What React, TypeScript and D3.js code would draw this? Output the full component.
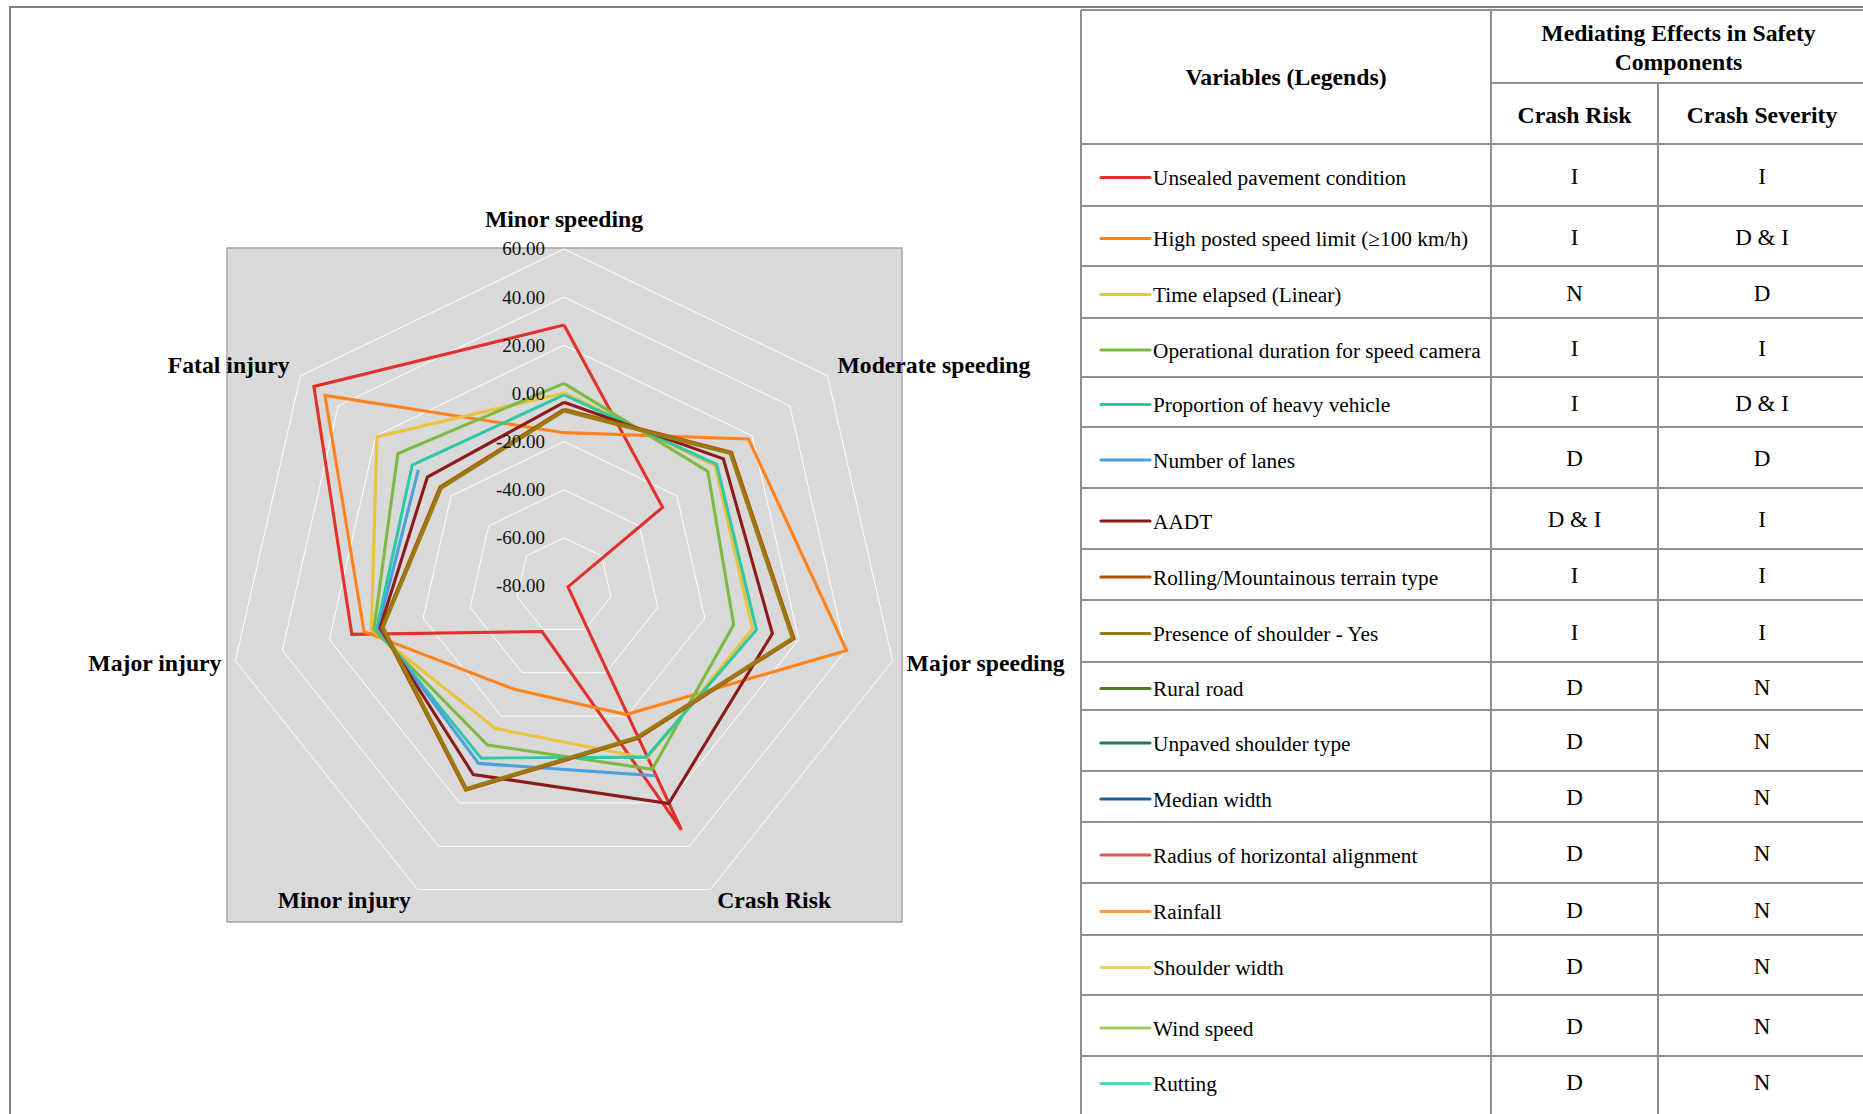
import React from "react";
import * as d3 from "d3";

// Radar axes (clockwise from the top) and the value ticks of the radial scale
const axes = [
  "Minor speeding",
  "Moderate speeding",
  "Major speeding",
  "Crash Risk",
  "Minor injury",
  "Major injury",
  "Fatal injury",
];
const tickValues = [-80, -60, -40, -20, 0, 20, 40, 60];

// Mediating effect of each variable on every axis (null = no value)
const unsealedPavement = [28.4, -27.6, -78.3, 32.4, -59, 10.4, 52.9];
const highSpeedLimit = [-16.3, 18, 40.4, -20.7, -32.4, 5.2, 47];
const timeElapsed = [0.2, 0.2, 0.3, -0.5, -14.3, 2.1, 19.4];
const speedCamera = [4.2, -3.6, -7.7, 4.5, -6.7, 1, 8.3];
const heavyVehicle = [-0.6, 1.1, 2, -1.1, -0.6, -0.2, 0.6];
const numberOfLanes = [null, null, null, 7.5, 1.8, -0.8, -2.6];
const aadt = [-3.7, 4.7, 8.8, 20.3, 6.9, -1.6, -7.4];
const terrainType = [-6.7, 8.9, 17.9, -9.7, 14.0, -2.4, -14.2];
const shoulderPresence = [-7.2, 8.4, 17.4, -10.2, 13.5, -2.8, -14.7];

// Legend table
const variables = [
  "Unsealed pavement condition",
  "High posted speed limit (\u2265100 km/h)",
  "Time elapsed (Linear)",
  "Operational duration for speed camera",
  "Proportion of heavy vehicle",
  "Number of lanes",
  "AADT",
  "Rolling/Mountainous terrain type",
  "Presence of shoulder - Yes",
  "Rural road",
  "Unpaved shoulder type",
  "Median width",
  "Radius of horizontal alignment",
  "Rainfall",
  "Shoulder width",
  "Wind speed",
  "Rutting",
];
const crashRiskEffects = ["I", "I", "N", "I", "I", "D", "D & I", "I", "I", "D", "D", "D", "D", "D", "D", "D", "D"];
const crashSeverityEffects = ["I", "D & I", "D", "I", "D & I", "D", "I", "I", "I", "N", "N", "N", "N", "N", "N", "N", "N"];
const variableColors = [
  "#e2302b", "#ff821d", "#ebc23b", "#7cba43", "#2ec8a6", "#4ba0e0",
  "#8b1b1b", "#b25000", "#9a7a12", "#4e7a27", "#1d7a5f", "#1f5e9c",
  "#e55454", "#ff9a42", "#ecd063", "#9ccc62", "#5ad6b8",
];

// Series drawn in the radar, in legend order (later ones on top)
const radarSeries = [
  { variable: 0, values: unsealedPavement },
  { variable: 1, values: highSpeedLimit },
  { variable: 2, values: timeElapsed },
  { variable: 3, values: speedCamera },
  { variable: 4, values: heavyVehicle },
  { variable: 5, values: numberOfLanes },
  { variable: 6, values: aadt },
  { variable: 7, values: terrainType },
  { variable: 8, values: shoulderPresence },
];

const W = 1863;
const H = 1114;
const FONT = "'Liberation Serif', 'Times New Roman', serif";

// radar geometry
const CX = 564;
const CY = 586;
const R = 337;
const plotBox = { x0: 227, y0: 248, x1: 902, y1: 922 };
const labelDx = [0, 10, 14, 7, -7, -14, -11];
const labelDy = [-22, -3, 10, 18, 18, 10, -3];

// table geometry
const tableX = [1081, 1491, 1658, 1866];
const tableTop = 10;
const headerMid = 83;
const headerBottom = 144;
const rowHeights = [62, 60, 52, 59, 50, 61, 61, 51, 62, 48, 61, 51, 61, 52, 60, 61, 50];

function Radar() {
  const r = d3.scaleLinear().domain([-80, 60]).range([0, R]);
  const angle = d3
    .scalePoint<number>()
    .domain(d3.range(axes.length + 1))
    .range([0, 2 * Math.PI]);
  const pt = (i: number, v: number): [number, number] => {
    const a = angle(i)!;
    return [CX + r(v) * Math.sin(a), CY - r(v) * Math.cos(a)];
  };

  const ringPath = (v: number) =>
    d3.line().curve(d3.curveLinearClosed)(axes.map((_, i) => pt(i, v)));

  const seriesLine = d3
    .line<[number, number] | null>()
    .defined((d) => d !== null)
    .x((d) => d![0])
    .y((d) => d![1])
    .curve(d3.curveLinear);

  return (
    <g>
      <rect
        x={plotBox.x0}
        y={plotBox.y0}
        width={plotBox.x1 - plotBox.x0}
        height={plotBox.y1 - plotBox.y0}
        fill="#d9d9d9"
        stroke="#a5a5a5"
        strokeWidth={1.5}
      />
      {tickValues
        .filter((t) => t > -80)
        .map((t) => (
          <path key={t} d={ringPath(t)!} fill="none" stroke="#ffffff" strokeWidth={1} />
        ))}
      {radarSeries.map((s) => {
        const pts = [...s.values, s.values[0]].map((v, i) =>
          v === null ? null : pt(i % axes.length, v as number)
        );
        return (
          <path
            key={s.variable}
            d={seriesLine(pts)!}
            fill="none"
            stroke={variableColors[s.variable]}
            strokeWidth={s.variable >= 7 ? 3.6 : 3.1}
            strokeLinejoin="miter"
            strokeMiterlimit={6}
          />
        );
      })}
      {tickValues.map((t) => (
        <text
          key={t}
          x={CX - 19}
          y={CY - r(t)}
          dy="0.34em"
          textAnchor="end"
          fontFamily={FONT}
          fontSize={19}
          fill="#111"
        >
          {t.toFixed(2)}
        </text>
      ))}
      {axes.map((name, i) => {
        const [x, y] = pt(i, 60);
        const s = Math.sin(angle(i)!);
        const anchor = s > 0.1 ? "start" : s < -0.1 ? "end" : "middle";
        return (
          <text
            key={name}
            x={x + labelDx[i]}
            y={y + labelDy[i]}
            textAnchor={anchor}
            fontFamily={FONT}
            fontSize={23.7}
            fontWeight="bold"
            fill="#000"
          >
            {name}
          </text>
        );
      })}
    </g>
  );
}

function LegendTable() {
  const bounds = [headerBottom];
  rowHeights.forEach((h) => bounds.push(bounds[bounds.length - 1] + h));
  const lineColor = "#8f8f8f";
  const colCrash = (tableX[1] + tableX[2]) / 2;
  const colSev = (tableX[2] + tableX[3]) / 2;
  return (
    <g fontFamily={FONT} fill="#000">
      <rect x={tableX[0]} y={tableTop} width={tableX[3] - tableX[0]} height={H} fill="#fff" />
      {/* horizontal rules (the last row runs off the page) */}
      <line x1={tableX[0]} x2={tableX[3]} y1={tableTop} y2={tableTop} stroke={lineColor} strokeWidth={2} />
      <line x1={tableX[1]} x2={tableX[3]} y1={headerMid} y2={headerMid} stroke={lineColor} strokeWidth={2} />
      {bounds.slice(0, -1).map((y, i) => (
        <line key={i} x1={tableX[0]} x2={tableX[3]} y1={y} y2={y} stroke={lineColor} strokeWidth={2} />
      ))}
      {/* vertical rules */}
      <line x1={tableX[0]} x2={tableX[0]} y1={tableTop} y2={H} stroke={lineColor} strokeWidth={2} />
      <line x1={tableX[1]} x2={tableX[1]} y1={tableTop} y2={H} stroke={lineColor} strokeWidth={2} />
      <line x1={tableX[2]} x2={tableX[2]} y1={headerMid} y2={H} stroke={lineColor} strokeWidth={2} />

      <g fontWeight="bold" fontSize={23.7} textAnchor="middle">
        <text x={(tableX[0] + tableX[1]) / 2} y={84.5}>Variables (Legends)</text>
        <text x={(tableX[1] + tableX[3]) / 2} y={41}>Mediating Effects in Safety</text>
        <text x={(tableX[1] + tableX[3]) / 2} y={69.5}>Components</text>
        <text x={colCrash} y={122.7}>Crash Risk</text>
        <text x={colSev} y={122.7}>Crash Severity</text>
      </g>

      {variables.map((name, i) => {
        const mid = (bounds[i] + bounds[i + 1]) / 2;
        return (
          <g key={name}>
            <line
              x1={1101}
              x2={1150}
              y1={mid + 2.5}
              y2={mid + 2.5}
              stroke={variableColors[i]}
              strokeWidth={3.2}
              strokeLinecap="round"
            />
            <text x={1153} y={mid + 10} fontSize={21.3}>
              {name}
            </text>
            <text x={colCrash} y={mid + 8.5} fontSize={23} textAnchor="middle">
              {crashRiskEffects[i]}
            </text>
            <text x={colSev} y={mid + 8.5} fontSize={23} textAnchor="middle">
              {crashSeverityEffects[i]}
            </text>
          </g>
        );
      })}
    </g>
  );
}

export default function App() {
  return (
    <svg
      width={W}
      height={H}
      viewBox={`0 0 ${W} ${H}`}
      style={{ position: "absolute", left: 0, top: 0, background: "#fff", display: "block" }}
    >
      <rect x={0} y={0} width={W} height={H} fill="#fff" />
      {/* page frame */}
      <line x1={10} x2={W} y1={7} y2={7} stroke="#808080" strokeWidth={2} />
      <line x1={10} x2={10} y1={6} y2={H} stroke="#808080" strokeWidth={2} />
      <Radar />
      <LegendTable />
    </svg>
  );
}
